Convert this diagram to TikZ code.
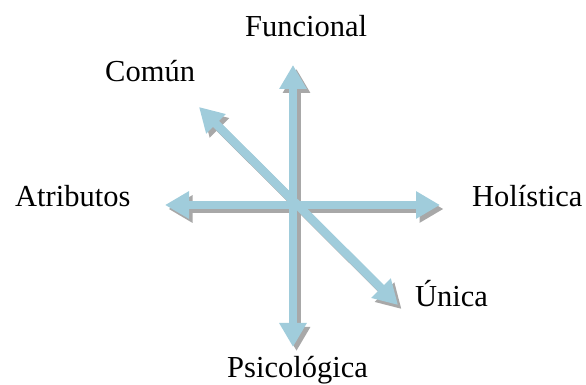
\documentclass[tikz,border=0pt]{standalone}
\usepackage{fontspec}
\setmainfont{Liberation Serif}
\usetikzlibrary{arrows.meta}
\definecolor{arrblue}{RGB}{160,204,219}
\definecolor{arrshadow}{RGB}{168,168,168}
\tikzset{
  lbl/.style={inner sep=0pt, anchor=base west, font=\fontsize{30.5}{36}\selectfont},
  axis/.style={line width=8.5pt, {Triangle[width=26pt,length=24pt]}-{Triangle[width=26pt,length=24pt]}},
  shadowaxis/.style={axis, draw=arrshadow},
  bluaxis/.style={axis, draw=arrblue}
}
\begin{document}
\begin{tikzpicture}[x=1pt,y=1pt]
\useasboundingbox (0,0) rectangle (586,385);
\coordinate (top) at (293,320);
\coordinate (bot) at (293,38);
\coordinate (lft) at (165,180);
\coordinate (rgt) at (440,180);
\coordinate (dtl) at (199,278);
\coordinate (dbr) at (398,80);
\node[lbl] (fun) at (245,348) {Funcional};
\node[lbl] (com) at (105,303) {Común};
\node[lbl] (atr) at (15,178) {Atributos};
\node[lbl] (hol) at (472,178) {Holística};
\node[lbl] (uni) at (415,78) {Única};
\node[lbl] (psi) at (227,7) {Psicológica};
\begin{scope}[transform canvas={shift={(3.5pt,-4pt)}}]
\draw[shadowaxis] (bot) -- (top);
\draw[shadowaxis] (lft) -- (rgt);
\draw[shadowaxis] (dtl) -- (dbr);
\end{scope}
\draw[bluaxis] (bot) -- (top);
\draw[bluaxis] (lft) -- (rgt);
\draw[bluaxis] (dtl) -- (dbr);
\end{tikzpicture}
\end{document}
